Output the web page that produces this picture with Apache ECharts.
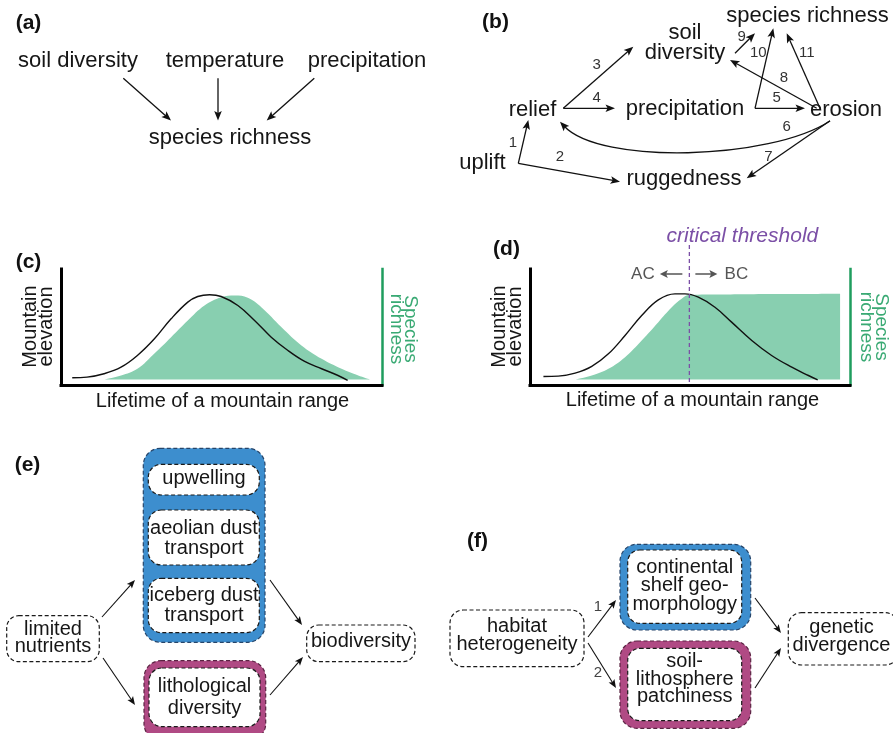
<!DOCTYPE html>
<html><head><meta charset="utf-8">
<script src="https://cdn.jsdelivr.net/npm/echarts@6/dist/echarts.min.js"></script>
<style>html,body{margin:0;padding:0;background:#fff}#chart{width:893px;height:733px}</style>
</head><body><div id="chart"></div>
<script>
// ---------------- DATA ----------------
const panelTags = ['(a)', '(b)', '(c)', '(d)', '(e)', '(f)'];
// (a)
const aCauses = ['soil diversity', 'temperature', 'precipitation'];
const aEffect = 'species richness';
// (b)
const bNodes = ['species richness', 'soil\ndiversity', 'relief', 'precipitation', 'erosion', 'uplift', 'ruggedness'];
const bPathNumbers = ['1', '2', '3', '4', '5', '6', '7', '8', '9', '10', '11'];
// (c)/(d) axis texts
const xTitle = 'Lifetime of a mountain range';
const yLeftTitle = 'Mountain\nelevation';
const yRightTitle = 'Species\nrichness';
const thresholdLabel = 'critical threshold';
const sideLabels = ['AC', 'BC'];
// (c) curves
const lifetimeElevC = [3.5, 8.1, 13.4, 18.7, 23.8, 29.1, 34.3, 39.5, 42.6, 46.3, 49.9, 55.1, 60.3, 65.5, 70.7, 75.9, 81.2, 86.3, 89.3];
const elevationC    = [1.5, 2.1, 5.2, 11.1, 21.7, 36.8, 54.9, 70.0, 75.1, 76.7, 75.1, 67.0, 53.4, 38.3, 26.2, 16.3, 9.7, 3.6, -0.9];
const lifetimeRichC = [13.4, 18.7, 23.8, 29.1, 34.3, 39.5, 44.7, 49.9, 54.1, 58.2, 62.4, 68.7, 74.9, 81.2, 87.4, 92.6, 96.3];
const richnessC     = [0, 3.6, 9.7, 23.5, 38.3, 53.4, 67.0, 74.5, 76.0, 73.9, 65.4, 47.3, 30.8, 18.7, 9.7, 3.6, 0];
// (d) curves
const lifetimeElevD = [4.2, 8.8, 14.1, 19.3, 24.5, 29.7, 34.9, 40.1, 45.3, 48.4, 52.6, 57.8, 63.0, 69.3, 75.5, 81.8, 87.0, 89.9];
const elevationD    = [2.7, 3.0, 5.7, 11.8, 23.2, 39.8, 57.9, 72.1, 77.5, 77.5, 74.5, 65.4, 51.9, 35.3, 21.7, 11.1, 3.6, -0.3];
const lifetimeRichD = [14.1, 19.3, 24.5, 29.7, 34.9, 40.1, 44.3, 47.4, 49.8, 60, 70, 80, 90, 96.9];
const richnessD     = [0, 3.6, 9.7, 20.2, 35.3, 51.9, 65.4, 73.0, 76.7, 77.0, 77.2, 77.3, 77.4, 77.5];
const thresholdLifetime = 49.8;
// (e)
const eSource = 'limited\nnutrients';
const eBlue = ['upwelling', 'aeolian dust\ntransport', 'iceberg dust\ntransport'];
const ePurple = 'lithological\ndiversity';
const eTarget = 'biodiversity';
// (f)
const fSource = 'habitat\nheterogeneity';
const fBlue = 'continental\nshelf geo-\nmorphology';
const fPurple = 'soil-\nlithosphere\npatchiness';
const fTarget = 'genetic\ndivergence';
const fPathNumbers = ['1', '2'];

// ---------------- STYLE / LAYOUT ----------------
const FONT = '"Liberation Sans", Arial, Helvetica, sans-serif';
const INK = '#161616';
const GREEN_FILL = '#88cfb0';
const GREEN_AXIS = '#1f9d5e';
const GREEN_TEXT = '#3aaa74';
const PURPLE_LINE = '#7b4fa6';
const BLUE = '#3d8ece';
const MAGENTA = '#b04a84';

const zip = (xs, ys) => xs.map((x, i) => [x, ys[i]]);

const chart = echarts.init(document.getElementById('chart'), null, {renderer: 'canvas'});

function xAx(g) {
  return {gridIndex: g, type: 'value', min: 0, max: 100,
    axisLine: {show: true, onZero: false, lineStyle: {color: '#000', width: 3, cap: 'square'}},
    axisTick: {show: false}, axisLabel: {show: false}, splitLine: {show: false}};
}
function yAx(g, pos, color, w) {
  return {gridIndex: g, type: 'value', min: -5, max: 100, position: pos,
    axisLine: {show: true, onZero: false, lineStyle: {color: color, width: w, cap: 'square'}},
    axisTick: {show: false}, axisLabel: {show: false}, splitLine: {show: false}};
}
function areaSeries(xi, yi, data) {
  return {type: 'line', xAxisIndex: xi, yAxisIndex: yi, data: data, smooth: 0.4,
    symbol: 'none', lineStyle: {width: 0, opacity: 0}, areaStyle: {color: GREEN_FILL, opacity: 1}, z: 2, silent: true};
}
function lineSeries(xi, yi, data) {
  return {type: 'line', xAxisIndex: xi, yAxisIndex: yi, data: data, smooth: 0.4,
    symbol: 'none', lineStyle: {color: '#111', width: 1.4}, z: 3, silent: true};
}

chart.setOption({
  animation: false,
  backgroundColor: '#fff',
  grid: [
    {left: 61, top: 269, width: 321, height: 116},
    {left: 530, top: 269, width: 320, height: 116}
  ],
  xAxis: [xAx(0), xAx(1)],
  yAxis: [yAx(0, 'left', '#000', 3), yAx(0, 'right', GREEN_AXIS, 2.5), yAx(1, 'left', '#000', 3), yAx(1, 'right', GREEN_AXIS, 2.5)],
  series: [
    areaSeries(0, 0, zip(lifetimeRichC, richnessC)),
    lineSeries(0, 0, zip(lifetimeElevC, elevationC)),
    areaSeries(1, 2, zip(lifetimeRichD, richnessD)),
    lineSeries(1, 2, zip(lifetimeElevD, elevationD))
  ]
});

// ---------------- GRAPHIC HELPERS ----------------
const G = [];
function txt(s, x, y, o) {
  o = o || {};
  const st = {text: s, fill: o.color || INK, fontSize: o.size || 22, fontFamily: FONT,
    fontWeight: o.weight || 'normal', fontStyle: o.fstyle || 'normal',
    textAlign: 'center', textVerticalAlign: 'middle', align: 'center', verticalAlign: 'middle'};
  if (o.lh) st.lineHeight = o.lh;
  G.push({type: 'text', x: x, y: y, rotation: o.rot || 0, z: 20, silent: true, style: st});
}
function box(x, y, w, h, r, fill, o) {
  o = o || {};
  G.push({type: 'rect', z: o.z || 5, silent: true, shape: {x: x, y: y, width: w, height: h, r: r},
    style: {fill: fill, stroke: o.stroke || '#1a1a1a', lineWidth: o.lw || 1.2, lineDash: [4, 2.5]}});
}
function head(tx, ty, ux, uy, col, L, W) {
  const bx = tx - ux * L, by = ty - uy * L;
  G.push({type: 'polygon', z: 9, silent: true,
    shape: {points: [[tx, ty], [bx - uy * W, by + ux * W], [tx - ux * L * 0.78, ty - uy * L * 0.78], [bx + uy * W, by - ux * W]]},
    style: {fill: col}});
}
function arrow(x1, y1, x2, y2, o) {
  o = o || {};
  const col = o.color || '#111', lw = o.lw || 1.3, L = o.L || 9.5, W = o.W || 3.8;
  const dx = x2 - x1, dy = y2 - y1, d = Math.hypot(dx, dy), ux = dx / d, uy = dy / d;
  G.push({type: 'line', z: 8, silent: true,
    shape: {x1: x1, y1: y1, x2: x2 - ux * L * 0.6, y2: y2 - uy * L * 0.6},
    style: {stroke: col, lineWidth: lw}});
  head(x2, y2, ux, uy, col, L, W);
}

// ---------------- PANEL TAGS ----------------
const tagPos = [[28.5, 23.5], [495.5, 22.5], [28.5, 262], [506.5, 249.5], [27.5, 465], [477.5, 541.5]];
panelTags.forEach((t, i) => txt(t, tagPos[i][0], tagPos[i][1], {size: 21, weight: 'bold', color: '#111'}));

// ---------------- (a) ----------------
const aCausePos = [[78, 60.5], [225, 60.5], [367, 60.5]];
aCauses.forEach((t, i) => txt(t, aCausePos[i][0], aCausePos[i][1]));
txt(aEffect, 230, 138);
arrow(123.3, 78.3, 171, 120.5);
arrow(218, 78.3, 218, 120.5);
arrow(314.3, 78.3, 266.7, 120.5);

// ---------------- (b) ----------------
const bPos = [[807.5, 16], [685, 43], [532.5, 109.5], [685, 109], [846, 109.5], [482.5, 163], [684, 179]];
bNodes.forEach((t, i) => txt(t, bPos[i][0], bPos[i][1], {lh: 20}));
const bArrows = [
  [518.3, 163.3, 528.3, 120],   // 1
  [518.3, 163.3, 620, 181.7],   // 2
  [563.3, 108.3, 633.3, 46.7],  // 3
  [563.3, 108.3, 615, 108.3],   // 4
  [755, 108.3, 805, 108.3],     // 5
  null,                          // 6 (curve)
  [830, 120.7, 746.7, 178.3],   // 7
  [816.7, 108.3, 730, 60],      // 8
  [735, 53.3, 755, 33.3],       // 9
  [755, 108.3, 773.3, 28.3],    // 10
  [820, 108.3, 786.7, 33.3]     // 11
];
bArrows.forEach(a => { if (a) arrow(a[0], a[1], a[2], a[3]); });
// curved arrow 6
(function () {
  const p0 = [830, 121], p1 = [770, 160], p2 = [600, 165], p3 = [560, 121.7];
  G.push({type: 'bezierCurve', z: 8, silent: true,
    shape: {x1: p0[0], y1: p0[1], x2: p3[0] + 4, y2: p3[1] + 4.3, cpx1: p1[0], cpy1: p1[1], cpx2: p2[0], cpy2: p2[1]},
    style: {stroke: '#111', lineWidth: 1.3, fill: null}});
  const dx = p3[0] - p2[0], dy = p3[1] - p2[1], d = Math.hypot(dx, dy);
  head(p3[0], p3[1], dx / d, dy / d, '#111', 9.5, 3.8);
})();
const bNumPos = [[513, 143], [560, 157], [596.7, 65], [596.7, 98.3], [776.7, 98.3], [786.7, 126.7],
  [768.3, 156.7], [784, 77.5], [741.7, 36.7], [758.3, 53.3], [806.7, 53.3]];
bPathNumbers.forEach((t, i) => txt(t, bNumPos[i][0], bNumPos[i][1], {size: 15, color: '#333'}));

// ---------------- (c) & (d) texts ----------------
txt(xTitle, 222.5, 401, {size: 20});
txt(xTitle, 692.5, 400, {size: 20});
txt(yLeftTitle, 38.5, 326.5, {size: 20, lh: 16, rot: Math.PI / 2});
txt(yLeftTitle, 507.5, 326.5, {size: 20, lh: 15.5, rot: Math.PI / 2});
txt(yRightTitle, 403.5, 329, {size: 19, lh: 14, rot: -Math.PI / 2, color: GREEN_TEXT});
txt(yRightTitle, 873.5, 327, {size: 19, lh: 15, rot: -Math.PI / 2, color: GREEN_TEXT});

const thrPx = chart.convertToPixel({xAxisIndex: 1}, thresholdLifetime);
G.push({type: 'line', z: 15, silent: true, shape: {x1: thrPx, y1: 245, x2: thrPx, y2: 384},
  style: {stroke: PURPLE_LINE, lineWidth: 1.3, lineDash: [4, 3]}});
txt(thresholdLabel, thrPx + 53, 236, {size: 21, fstyle: 'italic', color: PURPLE_LINE});
txt(sideLabels[0], thrPx - 46.5, 274, {size: 17, color: '#555'});
txt(sideLabels[1], thrPx + 47, 274, {size: 17, color: '#555'});
arrow(thrPx - 7, 274, thrPx - 29.5, 274, {color: '#555', lw: 1.5, L: 8, W: 4});
arrow(thrPx + 6, 274, thrPx + 28, 274, {color: '#555', lw: 1.5, L: 8, W: 4});

// ---------------- (e) ----------------
box(143.3, 448.3, 121.7, 194, 17, BLUE, {z: 4, stroke: '#26456a'});
box(148.3, 464.3, 111, 30.7, 13, '#fff');
box(148.3, 510, 111, 55, 13, '#fff');
box(148.3, 578.3, 111, 54.4, 13, '#fff');
box(144, 660.7, 121.7, 80, 17, MAGENTA, {z: 4, stroke: '#5a2342'});
box(149, 668, 111, 58.7, 13, '#fff');
box(6.7, 615.7, 92.6, 46, 12, '#fff');
box(306.7, 625, 108.3, 36.7, 12, '#fff');
txt(eBlue[0], 204, 478, {size: 20});
txt(eBlue[1], 204, 538.5, {size: 20, lh: 19.5});
txt(eBlue[2], 204, 605.5, {size: 20, lh: 19.5});
txt(ePurple, 204.5, 697, {size: 20, lh: 22});
txt(eSource, 53, 638, {size: 20, lh: 17.5});
txt(eTarget, 361, 641, {size: 20});
arrow(102, 617, 135, 580, {lw: 1.1, L: 8.5, W: 3.4});
arrow(103, 658, 135, 705, {lw: 1.1, L: 8.5, W: 3.4});
arrow(270, 580, 302, 625, {lw: 1.1, L: 8.5, W: 3.4});
arrow(270, 695, 303, 657, {lw: 1.1, L: 8.5, W: 3.4});

// ---------------- (f) ----------------
box(450, 610, 134, 56.7, 13, '#fff');
box(620, 544.3, 130.7, 85.7, 17, BLUE, {z: 4, stroke: '#26456a'});
box(627.7, 550, 114, 73.3, 12, '#fff');
box(620, 641, 130.7, 87.3, 17, MAGENTA, {z: 4, stroke: '#5a2342'});
box(627.7, 648.3, 114, 72.4, 12, '#fff');
box(788.3, 612.7, 110, 52.3, 13, '#fff');
txt(fSource, 517, 635, {size: 20, lh: 18});
txt(fBlue, 684.7, 585.5, {size: 20, lh: 18.5});
txt(fPurple, 684.7, 679, {size: 20, lh: 17.5});
txt(fTarget, 841.5, 636, {size: 20, lh: 18});
arrow(588, 637, 616, 600, {lw: 1.1, L: 8.5, W: 3.4});
arrow(588, 643, 616, 688, {lw: 1.1, L: 8.5, W: 3.4});
arrow(755, 598, 781, 633, {lw: 1.1, L: 8.5, W: 3.4});
arrow(755, 688, 781, 648, {lw: 1.1, L: 8.5, W: 3.4});
txt(fPathNumbers[0], 598, 607, {size: 15, color: '#444'});
txt(fPathNumbers[1], 598, 673, {size: 15, color: '#444'});

chart.setOption({graphic: {elements: G}});
</script></body></html>
